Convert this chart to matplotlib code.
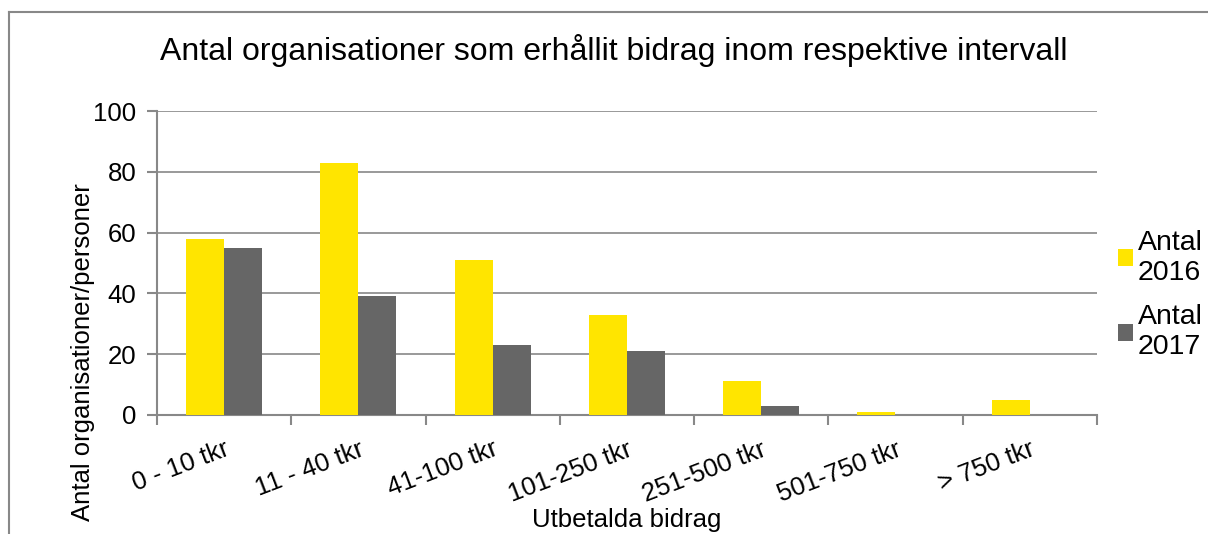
import numpy as np
import matplotlib.pyplot as plt
from matplotlib.lines import Line2D

plt.rcParams['font.family'] = ['Liberation Sans', 'DejaVu Sans']

categories = ['0 - 10 tkr', '11 - 40 tkr', '41-100 tkr', '101-250 tkr',
              '251-500 tkr', '501-750 tkr', '> 750 tkr']
antal_2016 = [58, 83, 51, 33, 11, 1, 5]
antal_2017 = [55, 39, 23, 21, 3, 0, 0]

fig = plt.figure(figsize=(12.08, 5.34), dpi=100)
ax = fig.add_axes([0.130, 0.223, 0.778, 0.569])

x = np.arange(len(categories))
w = 0.283
ax.bar(x - w / 2, antal_2016, w, color='#FFE500', label='Antal\n2016', zorder=3)
ax.bar(x + w / 2, antal_2017, w, color='#666666', label='Antal\n2017', zorder=3)

ax.set_xlim(-0.5, len(categories) - 0.5)
ax.set_ylim(0, 100)
ax.set_yticks(range(0, 101, 20))
ax.yaxis.grid(True, color='#888888', linewidth=1.2, zorder=0)

# ticks at category boundaries, labels at centres
ax.set_xticks(np.arange(-0.5, len(categories), 1.0))
ax.set_xticklabels([])
ax.set_xticks(x, minor=True)
ax.set_xticklabels(categories, minor=True, rotation=21, fontsize=18.5,
                   ha='right', rotation_mode='anchor')
ax.tick_params(axis='x', which='minor', length=0, pad=16)
ax.tick_params(axis='x', which='major', length=7, width=1.5, color='#888888')
ax.tick_params(axis='y', length=7, width=1.5, color='#888888', labelsize=18.5, pad=8)

for s in ['top', 'right']:
    ax.spines[s].set_visible(False)
for s in ['left', 'bottom']:
    ax.spines[s].set_color('#888888')
    ax.spines[s].set_linewidth(1.5)

ax.set_xlabel('Utbetalda bidrag', fontsize=18.5, va='center')
ax.xaxis.set_label_coords(0.5, -0.345)
ax.set_ylabel('Antal organisationer/personer', fontsize=18.5, va='center')
ax.yaxis.set_label_coords(-0.079, 0.207)
fig.text(0.508, 0.905, 'Antal organisationer som erhållit bidrag inom respektive intervall',
         ha='center', va='center', fontsize=23)

ax.legend(loc='center left', bbox_to_anchor=(1.022, 0.395), frameon=False,
          fontsize=20.5, handlelength=0.55, handleheight=0.55, handletextpad=0.15,
          labelspacing=0.65, borderpad=0, borderaxespad=0)

# outer chart border
fig.add_artist(Line2D([9 / 1208, 9 / 1208], [0, 1 - 12 / 534],
                      transform=fig.transFigure, color='#888888', linewidth=1.5))
fig.add_artist(Line2D([9 / 1208, 1], [1 - 12 / 534, 1 - 12 / 534],
                      transform=fig.transFigure, color='#888888', linewidth=1.5))

fig.savefig('out.png', dpi=100)
